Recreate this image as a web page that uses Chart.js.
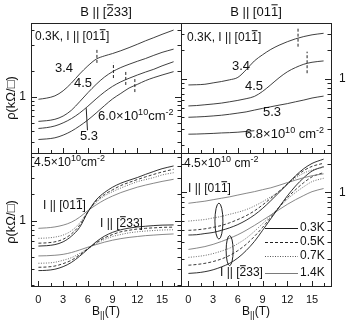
<!DOCTYPE html>
<html>
<head>
<meta charset="utf-8">
<script src="https://cdn.jsdelivr.net/npm/chart.js@4.4.1/dist/chart.umd.min.js"></script>
<style>
  body { margin: 0; background: #fff; }
  #wrap { position: relative; width: 362px; height: 326px; }
  #wrap canvas { position: absolute; left: 0; top: 0; }
</style>
</head>
<body>
<div id="wrap">
  <canvas id="tl" width="362" height="326"></canvas>
  <canvas id="tr" width="362" height="326"></canvas>
  <canvas id="bl" width="362" height="326"></canvas>
  <canvas id="br" width="362" height="326"></canvas>
</div>
<script>
// field values (T)
const fieldT = [0, 1, 2, 3, 4, 5, 6, 7, 8, 9, 10, 11, 12, 13, 14, 15, 16.4];
const fieldShort = [0, 1, 2, 3, 4, 5, 6, 7, 8];

// top left: B || [-233], 0.3K, densities 3.4, 4.5, 5.3, 6.0
const tl34 = [0.94, 0.97, 1.03, 1.18, 1.45, 1.85, 2.3, 2.75, 3.0, 3.2, 3.45, 3.75, 4.1, 4.5, 4.9, 5.35, 6.0];
const tl45 = [0.52, 0.53, 0.55, 0.6, 0.7, 0.88, 1.12, 1.4, 1.7, 1.97, 2.2, 2.4, 2.6, 2.8, 3.05, 3.3, 3.6];
const tl53 = [0.43, 0.44, 0.46, 0.5, 0.56, 0.65, 0.78, 0.95, 1.14, 1.33, 1.5, 1.65, 1.8, 1.95, 2.1, 2.3, 2.57];
const tl60 = [0.32, 0.325, 0.335, 0.36, 0.4, 0.46, 0.54, 0.65, 0.79, 0.95, 1.1, 1.27, 1.4, 1.55, 1.68, 1.8, 1.97];
const tlMarkField = [7.1, 9.1, 10.6, 11.7];
const tlMarkLow = [2.49, 1.66, 1.38, 1.14];
const tlMarkHigh = [3.62, 2.49, 2.06, 1.71];

// top right: B || [01-1], 0.3K, densities 3.4, 4.5, 5.3, 6.8
const tr34 = [0.865, 0.87, 0.88, 0.91, 0.94, 0.98, 1.04, 1.25, 1.55, 1.8, 2.05, 2.27, 2.47, 2.65, 2.8, 2.92, 3.03];
const tr45 = [0.52, 0.525, 0.535, 0.545, 0.557, 0.575, 0.595, 0.62, 0.655, 0.74, 0.87, 1.03, 1.19, 1.32, 1.43, 1.5, 1.55];
const tr53 = [0.395, 0.398, 0.402, 0.408, 0.415, 0.425, 0.437, 0.45, 0.47, 0.49, 0.51, 0.53, 0.55, 0.575, 0.6, 0.63, 0.66];
const tr68 = [0.262, 0.263, 0.265, 0.267, 0.27, 0.272, 0.275, 0.28, 0.285];
const trMarkField = [13.3, 14.4];
const trMarkLow = [2.19, 1.15];
const trMarkHigh = [3.55, 1.94];

// bottom left: B || [-233], 4.5e10, I || [01-1] (A) and I || [-233] (B)
const temps = ['0.3K', '0.5K', '0.7K', '1.4K'];
const blA03 = [0.53, 0.535, 0.55, 0.59, 0.68, 0.85, 1.25, 1.7, 2.05, 2.35, 2.6, 2.8, 3.0, 3.25, 3.5, 3.75, 4.02];
const blA05 = [0.57, 0.575, 0.59, 0.63, 0.72, 0.9, 1.26, 1.65, 1.95, 2.2, 2.45, 2.65, 2.85, 3.05, 3.25, 3.45, 3.7];
const blA07 = [0.645, 0.65, 0.665, 0.7, 0.78, 0.95, 1.27, 1.6, 1.88, 2.1, 2.3, 2.5, 2.7, 2.85, 3.0, 3.2, 3.39];
const blA14 = [0.83, 0.84, 0.86, 0.9, 0.97, 1.1, 1.3, 1.5, 1.7, 1.88, 2.05, 2.2, 2.35, 2.48, 2.6, 2.72, 2.87];
const blB03 = [0.285, 0.287, 0.295, 0.315, 0.35, 0.41, 0.49, 0.59, 0.68, 0.75, 0.8, 0.835, 0.86, 0.875, 0.89, 0.9, 0.905];
const blB05 = [0.31, 0.312, 0.32, 0.34, 0.37, 0.425, 0.495, 0.575, 0.65, 0.71, 0.76, 0.79, 0.815, 0.83, 0.84, 0.85, 0.855];
const blB07 = [0.343, 0.345, 0.352, 0.37, 0.395, 0.44, 0.5, 0.565, 0.625, 0.675, 0.71, 0.74, 0.76, 0.775, 0.785, 0.795, 0.8];
const blB14 = [0.413, 0.415, 0.42, 0.43, 0.45, 0.48, 0.515, 0.55, 0.585, 0.615, 0.64, 0.66, 0.675, 0.69, 0.7, 0.71, 0.72];

// bottom right: B || [01-1], 4.5e10
const brA03 = [0.357, 0.36, 0.37, 0.38, 0.4, 0.425, 0.46, 0.51, 0.58, 0.68, 0.82, 1.0, 1.22, 1.5, 1.78, 2.02, 2.24];
const brA05 = [0.40, 0.405, 0.415, 0.43, 0.45, 0.48, 0.52, 0.57, 0.64, 0.74, 0.87, 1.03, 1.23, 1.47, 1.7, 1.88, 2.03];
const brA07 = [0.5, 0.51, 0.52, 0.54, 0.56, 0.59, 0.62, 0.66, 0.72, 0.8, 0.9, 1.02, 1.22, 1.42, 1.6, 1.72, 1.84];
const brA14 = [0.77, 0.79, 0.81, 0.84, 0.87, 0.9, 0.94, 0.98, 1.02, 1.07, 1.12, 1.19, 1.27, 1.35, 1.43, 1.5, 1.57];
const brB03 = [0.141, 0.143, 0.147, 0.154, 0.165, 0.18, 0.205, 0.245, 0.305, 0.4, 0.53, 0.7, 0.92, 1.17, 1.43, 1.68, 1.87];
const brB05 = [0.172, 0.175, 0.18, 0.188, 0.2, 0.218, 0.245, 0.285, 0.345, 0.43, 0.55, 0.7, 0.88, 1.07, 1.27, 1.46, 1.62];
const brB07 = [0.208, 0.212, 0.218, 0.228, 0.242, 0.26, 0.29, 0.33, 0.39, 0.47, 0.57, 0.7, 0.85, 1.0, 1.15, 1.3, 1.41];
const brB14 = [0.252, 0.26, 0.27, 0.285, 0.305, 0.33, 0.36, 0.4, 0.45, 0.51, 0.58, 0.66, 0.75, 0.84, 0.93, 1.02, 1.1];

// ticks
const xMajorTicks = [0, 3, 6, 9, 12, 15];
const xMinorTicks = [1.5, 4.5, 7.5, 10.5, 13.5, 16.5];
const tlTicks = [0.3, 0.4, 0.5, 0.6, 0.7, 0.8, 0.9, 1, 2, 4, 6];
const trTicks = [0.2, 0.3, 0.4, 0.5, 0.6, 0.7, 0.8, 0.9, 1, 2, 3];
const blTicks = [0.2, 0.3, 0.4, 0.5, 0.6, 0.7, 0.8, 0.9, 1, 2, 3, 4, 5];
const brTicks = [0.2, 0.3, 0.4, 0.5, 0.6, 0.7, 0.8, 0.9, 1, 2];
const yLabelTicks = [1];

const FONT = '"Liberation Sans", Arial, Helvetica, sans-serif';
const W = 362, H = 326;

const tempStyle = {
    '0.3K': { color: '#1a1a1a', dash: [] },
    '0.5K': { color: '#222', dash: [3, 2] },
    '0.7K': { color: '#555', dash: [1, 1.5] },
    '1.4K': { color: '#7a7a7a', dash: [] }
};

function pts(xs, ys) {
    return ys.map((y, i) => ({ x: xs[i], y: y }));
}

function curve(xs, ys, style) {
    style = style || { color: '#2a2a2a', dash: [] };
    return {
        data: pts(xs, ys),
        borderColor: style.color,
        borderDash: style.dash,
        borderWidth: 0.9,
        pointRadius: 0,
        cubicInterpolationMode: 'monotone',
        fill: false
    };
}

function marks(field, low, high) {
    return field.map((b, i) => ({
        data: [{ x: b, y: low[i] }, { x: b, y: high[i] }],
        borderColor: '#222',
        borderDash: [3, 2],
        borderWidth: 1,
        pointRadius: 0,
        fill: false
    }));
}

// text with superscript / subscript / overbar parts
function drawRich(ctx, parts, x, y, size, align, angle) {
    ctx.save();
    ctx.translate(x, y);
    if (angle) ctx.rotate(angle);
    const small = Math.round(size * 0.72);
    let w = 0;
    parts.forEach(p => {
        ctx.font = (p.sup || p.sub ? small : size) + 'px ' + FONT;
        p.w = ctx.measureText(p.t).width;
        w += p.w;
    });
    let cx = align === 'center' ? -w / 2 : (align === 'right' ? -w : 0);
    ctx.textAlign = 'left';
    ctx.textBaseline = 'alphabetic';
    ctx.fillStyle = '#111';
    parts.forEach(p => {
        const sz = p.sup || p.sub ? small : size;
        ctx.font = sz + 'px ' + FONT;
        const dy = p.sup ? -size * 0.42 : (p.sub ? size * 0.28 : 0);
        ctx.fillText(p.t, cx, dy);
        if (p.bar) ctx.fillRect(cx + 0.5, dy - size * 0.9, p.w - 1, 1);
        cx += p.w;
    });
    ctx.restore();
}

const panelDecor = {
    id: 'panelDecor',
    afterDatasetsDraw(chart, args, opts) {
        const ctx = chart.ctx;
        const a = chart.chartArea;
        const xs = chart.scales.x, ys = chart.scales.y;
        ctx.save();
        ctx.strokeStyle = '#222';
        ctx.lineWidth = 1;
        ctx.setLineDash([]);
        ctx.strokeRect(a.left + 0.5, a.top + 0.5, a.right - a.left, a.bottom - a.top);

        ctx.beginPath();
        opts.yTicks.forEach(v => {
            const y = Math.round(ys.getPixelForValue(v)) + 0.5;
            const len = yLabelTicks.includes(v) ? 6 : 3.5;
            ctx.moveTo(a.left, y); ctx.lineTo(a.left + len, y);
            ctx.moveTo(a.right, y); ctx.lineTo(a.right - len, y);
        });
        xMajorTicks.forEach(v => {
            const x = Math.round(xs.getPixelForValue(v)) + 0.5;
            ctx.moveTo(x, a.bottom); ctx.lineTo(x, a.bottom - 5);
        });
        xMinorTicks.forEach(v => {
            const x = Math.round(xs.getPixelForValue(v)) + 0.5;
            ctx.moveTo(x, a.bottom); ctx.lineTo(x, a.bottom - 3);
        });
        ctx.stroke();

        ctx.fillStyle = '#111';
        ctx.font = '12px ' + FONT;
        ctx.textBaseline = 'middle';
        yLabelTicks.forEach(v => {
            const y = ys.getPixelForValue(v);
            if (opts.ySide === 'left') {
                ctx.textAlign = 'right';
                ctx.fillText(String(v), a.left - 5, y);
            } else {
                ctx.textAlign = 'left';
                ctx.fillText(String(v), a.right + 8, y);
            }
        });

        if (opts.xLabels) {
            ctx.textAlign = 'center';
            ctx.textBaseline = 'alphabetic';
            ctx.font = '11px ' + FONT;
            xMajorTicks.forEach(v => {
                ctx.fillText(String(v), xs.getPixelForValue(v), a.bottom + 17);
            });
            drawRich(ctx, [{ t: 'B' }, { t: '||', sub: true }, { t: '(T)' }], (a.left + a.right) / 2, a.bottom + 29, 12, 'center');
        }

        (opts.leaders || []).forEach(l => {
            ctx.beginPath();
            ctx.moveTo(xs.getPixelForValue(l[0]), ys.getPixelForValue(l[1]));
            ctx.lineTo(xs.getPixelForValue(l[2]), ys.getPixelForValue(l[3]));
            ctx.stroke();
        });
        (opts.rings || []).forEach(r => {
            ctx.beginPath();
            ctx.ellipse(xs.getPixelForValue(r[0]), ys.getPixelForValue(r[1]), r[2], r[3], 0, 0, Math.PI * 2);
            ctx.stroke();
        });
        if (opts.legend) {
            const lg = opts.legend;
            temps.forEach((t, i) => {
                const st = tempStyle[t];
                const y = lg.ys[i] + 0.5;
                ctx.strokeStyle = st.color;
                ctx.setLineDash(st.dash);
                ctx.beginPath();
                ctx.moveTo(lg.x0, y); ctx.lineTo(lg.x1, y);
                ctx.stroke();
                ctx.setLineDash([]);
                ctx.font = '12px ' + FONT;
                ctx.textAlign = 'left';
                ctx.textBaseline = 'middle';
                ctx.fillStyle = '#111';
                ctx.fillText(t, lg.x1 + 2, lg.ys[i]);
            });
        }
        (opts.texts || []).forEach(t => {
            drawRich(ctx, t.parts, t.x, t.y, t.size || 12, t.align || 'left', t.angle || 0);
        });
        ctx.restore();
    }
};

const bar = (s) => ({ t: s, bar: true });
const plain = (s) => ({ t: s });
const sup = (s) => ({ t: s, sup: true });
const rhoTitle = [plain('\u03C1(k\u03A9/\u25A1)')];

function makePanel(id, rect, yMin, yMax, datasets, decor) {
    const ctx = document.getElementById(id).getContext('2d');
    return new Chart(ctx, {
        type: 'line',
        data: { datasets: datasets },
        options: {
            responsive: false,
            animation: false,
            layout: { padding: { left: rect[0], top: rect[1], right: W - rect[2], bottom: H - rect[3] } },
            scales: {
                x: { type: 'linear', min: -0.9, max: 17.3, display: false },
                y: { type: 'logarithmic', min: yMin, max: yMax, display: false }
            },
            plugins: {
                legend: { display: false },
                tooltip: { enabled: false },
                panelDecor: decor
            }
        },
        plugins: [panelDecor]
    });
}

const tlChart = makePanel('tl', [31, 23, 181, 153], 0.223, 7.25,
    [curve(fieldT, tl34), curve(fieldT, tl45), curve(fieldT, tl53), curve(fieldT, tl60)]
        .concat(marks(tlMarkField, tlMarkLow, tlMarkHigh)),
    {
        yTicks: tlTicks, ySide: 'left', xLabels: false,
        leaders: [[5.8, 0.74, 5.95, 0.41]],
        texts: [
            { parts: [plain('B || ['), bar('2'), plain('33]')], x: 106, y: 16, size: 13, align: 'center' },
            { parts: rhoTitle, x: 15, y: 98, size: 13, align: 'center', angle: -Math.PI / 2 },
            { parts: [plain('0.3K, I || [01'), bar('1'), plain(']')], x: 35, y: 40, size: 12 },
            { parts: [plain('3.4')], x: 55, y: 72, size: 13 },
            { parts: [plain('4.5')], x: 74, y: 87, size: 13 },
            { parts: [plain('5.3')], x: 80, y: 140, size: 13 },
            { parts: [plain('6.0\u00D710'), sup('10'), plain('cm'), sup('-2')], x: 98, y: 120, size: 13 }
        ]
    });

const trChart = makePanel('tr', [181, 23, 331, 153], 0.166, 3.89,
    [curve(fieldT, tr34), curve(fieldT, tr45), curve(fieldT, tr53), curve(fieldShort, tr68)]
        .concat(marks(trMarkField, trMarkLow, trMarkHigh)),
    {
        yTicks: trTicks, ySide: 'right', xLabels: false,
        texts: [
            { parts: [plain('B || [01'), bar('1'), plain(']')], x: 256, y: 16, size: 13, align: 'center' },
            { parts: [plain('0.3K, I || [01'), bar('1'), plain(']')], x: 187, y: 41, size: 12 },
            { parts: [plain('3.4')], x: 232, y: 70, size: 13 },
            { parts: [plain('4.5')], x: 245, y: 90, size: 13 },
            { parts: [plain('5.3')], x: 263, y: 116, size: 13 },
            { parts: [plain('6.8\u00D710'), sup('10'), plain(' cm'), sup('-2')], x: 245, y: 138, size: 13 }
        ]
    });

const blChart = makePanel('bl', [31, 153, 181, 286], 0.193, 5.58,
    [curve(fieldT, blA03, tempStyle['0.3K']), curve(fieldT, blA05, tempStyle['0.5K']),
     curve(fieldT, blA07, tempStyle['0.7K']), curve(fieldT, blA14, tempStyle['1.4K']),
     curve(fieldT, blB03, tempStyle['0.3K']), curve(fieldT, blB05, tempStyle['0.5K']),
     curve(fieldT, blB07, tempStyle['0.7K']), curve(fieldT, blB14, tempStyle['1.4K'])],
    {
        yTicks: blTicks, ySide: 'left', xLabels: true,
        texts: [
            { parts: rhoTitle, x: 15, y: 222, size: 13, align: 'center', angle: -Math.PI / 2 },
            { parts: [plain('4.5\u00D710'), sup('10'), plain('cm'), sup('-2')], x: 34, y: 166, size: 12 },
            { parts: [plain('I || [01'), bar('1'), plain(']')], x: 43, y: 209, size: 12 },
            { parts: [plain('I || ['), bar('2'), plain('33]')], x: 100, y: 227, size: 12 }
        ]
    });

const brChart = makePanel('br', [181, 153, 331, 286], 0.104, 2.6,
    [curve(fieldT, brA03, tempStyle['0.3K']), curve(fieldT, brA05, tempStyle['0.5K']),
     curve(fieldT, brA07, tempStyle['0.7K']), curve(fieldT, brA14, tempStyle['1.4K']),
     curve(fieldT, brB03, tempStyle['0.3K']), curve(fieldT, brB05, tempStyle['0.5K']),
     curve(fieldT, brB07, tempStyle['0.7K']), curve(fieldT, brB14, tempStyle['1.4K'])],
    {
        yTicks: brTicks, ySide: 'right', xLabels: true,
        rings: [[3.7, 0.5, 4, 18], [5.0, 0.245, 3.5, 15]],
        legend: { x0: 265, x1: 298, ys: [228, 242, 256, 273] },
        texts: [
            { parts: [plain('4.5\u00D710'), sup('10'), plain(' cm'), sup('-2')], x: 184, y: 167, size: 12 },
            { parts: [plain('I || [01'), bar('1'), plain(']')], x: 188, y: 192, size: 12 },
            { parts: [plain('I || ['), bar('2'), plain('33]')], x: 220, y: 276, size: 12 }
        ]
    });
</script>
</body>
</html>
